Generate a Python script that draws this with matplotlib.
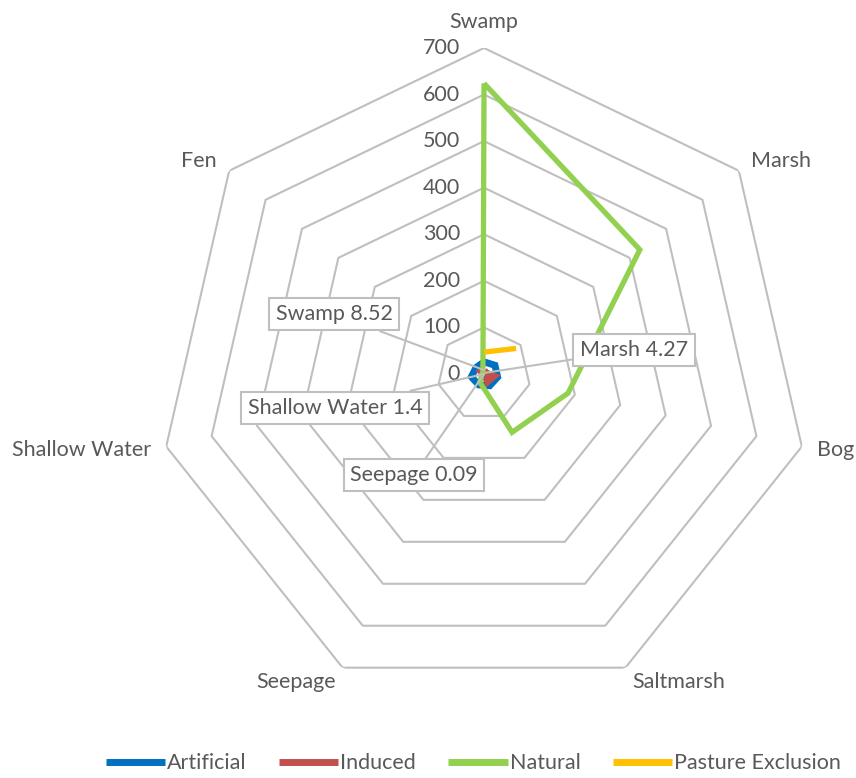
import numpy as np
import matplotlib
matplotlib.use("Agg")
import matplotlib.pyplot as plt
from matplotlib.transforms import ScaledTranslation

plt.rcParams['font.family'] = ['Lato', 'DejaVu Sans']

categories = ["Swamp", "Marsh", "Bog", "Saltmarsh", "Seepage", "Shallow Water", "Fen"]
artificial = [26, 30, 30, 28, 26, 28, 22]
induced = [8.52, 4.27, 22, 18, 0.09, 1.4, 8]
natural = [624, 428, 185, 139, 20, 5, 3]
pasture_exclusion = [47, 88, np.nan, np.nan, np.nan, np.nan, np.nan]
series_names = ["Artificial", "Induced", "Natural", "Pasture Exclusion"]
series_colors = ["#0070C0", "#C0504D", "#92D050", "#FFC000"]
series_widths = [5.0, 5.0, 3.8, 3.8]
r_ticks = [0, 100, 200, 300, 400, 500, 600, 700]
# data labels on the Induced series
labelled = ["Swamp", "Marsh", "Shallow Water", "Seepage"]

TEXT = "#595959"
GRID = "#BFBFBF"
FS = 15.5

fig = plt.figure(figsize=(8.56, 7.78), dpi=100)
ax = fig.add_axes([0.1846, 0.1003, 0.7617, 0.838], projection="polar")
ax.set_theta_offset(np.pi / 2)
ax.set_theta_direction(-1)
ax.set_ylim(0, 700)
ax.grid(False)
ax.spines["polar"].set_visible(False)
ax.set_xticks([])
ax.set_yticks([])
ax.patch.set_alpha(0)

n = len(categories)
theta = np.arange(n) * 2 * np.pi / n
theta_closed = np.append(theta, theta[0])

# heptagonal grid
for r in r_ticks[1:]:
    ax.plot(theta_closed, [r] * (n + 1), color=GRID, lw=1.5, zorder=1)

# radial value labels left of the Swamp axis
off = ax.transData + ScaledTranslation(-0.24, 0, fig.dpi_scale_trans)
for r in r_ticks:
    ax.text(0, r, str(r), transform=off, ha="right", va="center",
            fontsize=FS, color=TEXT)

# category labels
for t, c in zip(theta, categories):
    s = np.sin(t)
    if abs(s) < 1e-6:
        ha, va = "center", "bottom"
    else:
        ha, va = ("left" if s > 0 else "right"), "center"
    ax.text(t, 734, c, ha=ha, va=va, fontsize=FS, color=TEXT, clip_on=False)

handles = []
for vals, name, col, lw in zip([artificial, induced, natural, pasture_exclusion],
                               series_names, series_colors, series_widths):
    v = np.append(vals, vals[0])
    h, = ax.plot(theta_closed, v, color=col, lw=lw, label=name, zorder=3,
                 solid_joinstyle="miter", solid_capstyle="butt", clip_on=False)
    handles.append(h)

# callout labels for Induced
box_pos = {"Swamp": (334, 464), "Marsh": (634, 428),
           "Shallow Water": (335, 370), "Seepage": (414, 303)}
for c in labelled:
    i = categories.index(c)
    val = induced[i]
    ax.annotate(f"{c} {val:g}", xy=(theta[i], val), xycoords="data",
                xytext=box_pos[c], textcoords="figure pixels",
                ha="center", va="center", fontsize=FS, color=TEXT, zorder=5,
                bbox=dict(boxstyle="square,pad=0.3", fc="white", ec=GRID, lw=1.5),
                arrowprops=dict(arrowstyle="-", color=GRID, lw=1.5,
                                shrinkA=0, shrinkB=0))

leg = fig.legend(handles=handles, loc="center", bbox_to_anchor=(0.553, 0.019),
                 ncol=4, frameon=False, fontsize=FS, handlelength=2.75,
                 handletextpad=0.1, columnspacing=1.5, borderaxespad=0)
for t in leg.get_texts():
    t.set_color(TEXT)
for lh in leg.legend_handles:
    lh.set_linewidth(5)

fig.savefig("out.png", dpi=100)
